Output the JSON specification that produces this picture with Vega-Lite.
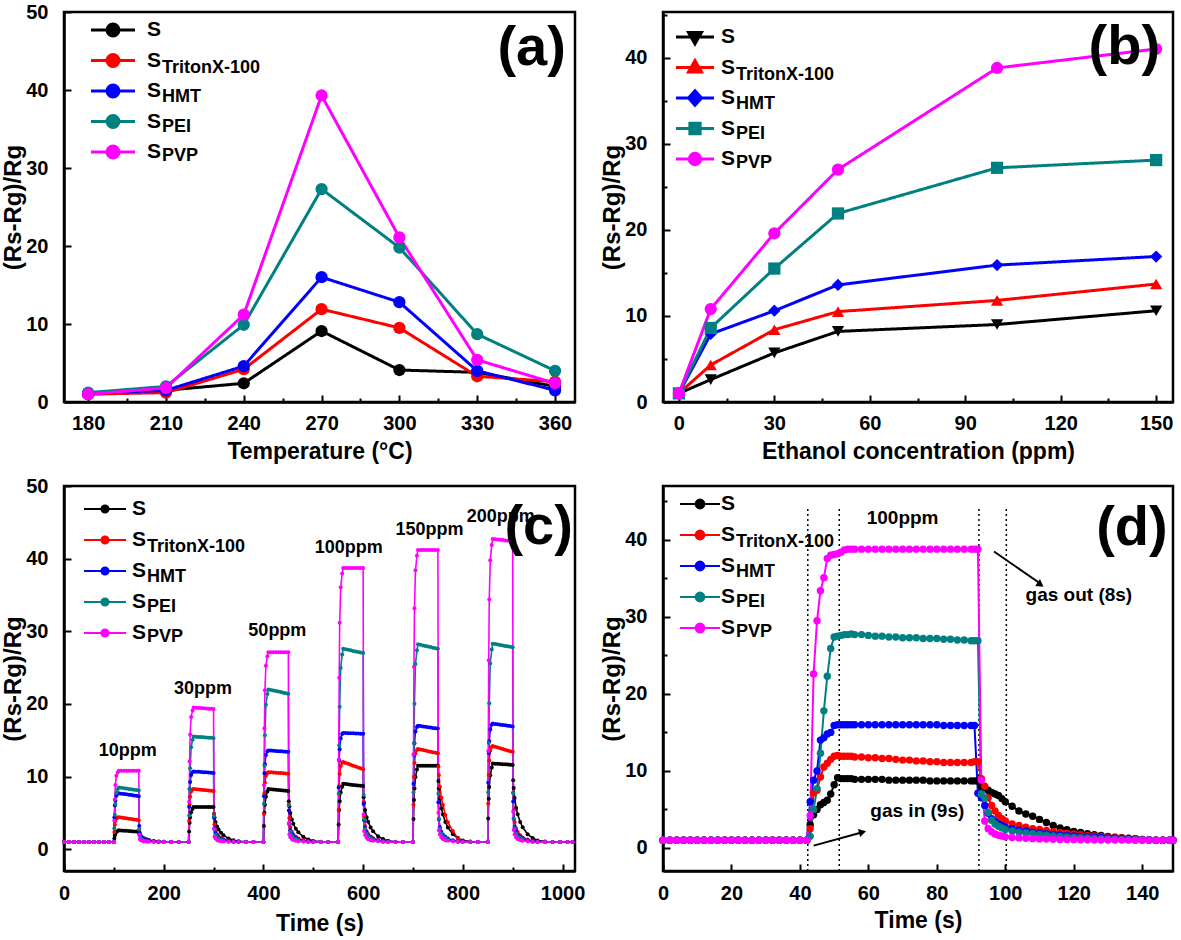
{
"$schema": "https://vega.github.io/schema/vega-lite/v6.json",
"padding": {"left": 0, "top": 0, "right": 2, "bottom": 2},
"background": "white",
"datasets": {
"series": [{"s":"S","rank":1,"sub":" "},{"s":"TX","rank":2,"sub":"TritonX-100"},{"s":"HMT","rank":3,"sub":"HMT"},{"s":"PEI","rank":4,"sub":"PEI"},{"s":"PVP","rank":5,"sub":"PVP"}],
"a": [{"T":180,"S":1.0,"TX":1.0,"HMT":1.1,"PEI":1.2,"PVP":1.0},{"T":210,"S":1.5,"TX":1.2,"HMT":1.5,"PEI":2.0,"PVP":1.8},{"T":240,"S":2.4,"TX":4.2,"HMT":4.6,"PEI":9.9,"PVP":11.2},{"T":270,"S":9.1,"TX":11.9,"HMT":16.0,"PEI":27.3,"PVP":39.3},{"T":300,"S":4.1,"TX":9.5,"HMT":12.8,"PEI":19.8,"PVP":21.1},{"T":330,"S":3.8,"TX":3.3,"HMT":4.0,"PEI":8.7,"PVP":5.4},{"T":360,"S":2.0,"TX":2.6,"HMT":1.5,"PEI":4.0,"PVP":2.4}],
"b": [{"C":0,"S":1.0,"TX":1.0,"HMT":1.0,"PEI":1.0,"PVP":1.0},{"C":10,"S":2.6,"TX":4.3,"HMT":7.9,"PEI":8.6,"PVP":10.8},{"C":30,"S":5.7,"TX":8.4,"HMT":10.6,"PEI":15.5,"PVP":19.6},{"C":50,"S":8.2,"TX":10.5,"HMT":13.6,"PEI":21.9,"PVP":27.0},{"C":100,"S":9.0,"TX":11.8,"HMT":15.9,"PEI":27.2,"PVP":38.8},{"C":150,"S":10.6,"TX":13.7,"HMT":16.9,"PEI":28.1,"PVP":41.0}],
"c": [
{"t":0,"S":1,"TX":1,"HMT":1,"PEI":1,"PVP":1},{"t":10,"S":1,"TX":1,"HMT":1,"PEI":1,"PVP":1},{"t":20,"S":1,"TX":1,"HMT":1,"PEI":1,"PVP":1},{"t":30,"S":1,"TX":1,"HMT":1,"PEI":1,"PVP":1},{"t":40,"S":1,"TX":1,"HMT":1,"PEI":1,"PVP":1},{"t":50,"S":1,"TX":1,"HMT":1,"PEI":1,"PVP":1},{"t":60,"S":1,"TX":1,"HMT":1,"PEI":1,"PVP":1},{"t":70,"S":1,"TX":1,"HMT":1,"PEI":1,"PVP":1},{"t":80,"S":1,"TX":1,"HMT":1,"PEI":1,"PVP":1},{"t":90,"S":1,"TX":1,"HMT":1,"PEI":1,"PVP":1},
{"t":100,"S":1,"TX":1,"HMT":1,"PEI":1,"PVP":1},{"t":101,"S":1.48,"TX":2.36,"HMT":4.35,"PEI":2.88,"PVP":3.94},{"t":102,"S":1.88,"TX":3.38,"HMT":6.03,"PEI":4.75,"PVP":6.88},{"t":103,"S":2.12,"TX":3.89,"HMT":6.7,"PEI":6.25,"PVP":8.84},{"t":105,"S":2.36,"TX":4.23,"HMT":7.37,"PEI":7.75,"PVP":10.11},{"t":108,"S":2.52,"TX":4.37,"HMT":7.63,"PEI":8.28,"PVP":10.6},{"t":110,"S":2.6,"TX":4.4,"HMT":7.7,"PEI":8.5,"PVP":10.8},{"t":115,"S":2.58,"TX":4.35,"HMT":7.65,"PEI":8.45,"PVP":10.8},{"t":120,"S":2.55,"TX":4.3,"HMT":7.6,"PEI":8.4,"PVP":10.8},{"t":125,"S":2.53,"TX":4.25,"HMT":7.55,"PEI":8.35,"PVP":10.8},{"t":130,"S":2.5,"TX":4.2,"HMT":7.5,"PEI":8.3,"PVP":10.8},{"t":135,"S":2.48,"TX":4.15,"HMT":7.45,"PEI":8.25,"PVP":10.8},{"t":140,"S":2.45,"TX":4.1,"HMT":7.4,"PEI":8.2,"PVP":10.8},{"t":145,"S":2.43,"TX":4.05,"HMT":7.35,"PEI":8.15,"PVP":10.8},{"t":150,"S":2.4,"TX":4.0,"HMT":7.3,"PEI":8.1,"PVP":10.8},{"t":151,"S":2.12,"TX":2.65,"HMT":3.2,"PEI":2.78,"PVP":1.98},{"t":152,"S":1.98,"TX":2.05,"HMT":2.26,"PEI":1.85,"PVP":1.39},{"t":154,"S":1.8,"TX":1.66,"HMT":1.82,"PEI":1.5,"PVP":1.25},{"t":157,"S":1.62,"TX":1.45,"HMT":1.57,"PEI":1.32,"PVP":1.15},{"t":160,"S":1.5,"TX":1.33,"HMT":1.41,"PEI":1.21,"PVP":1.1},{"t":165,"S":1.36,"TX":1.23,"HMT":1.28,"PEI":1.14,"PVP":1.06},{"t":170,"S":1.27,"TX":1.15,"HMT":1.19,"PEI":1.09,"PVP":1.04},{"t":180,"S":1.14,"TX":1.08,"HMT":1.09,"PEI":1.04,"PVP":1.02},{"t":190,"S":1.07,"TX":1.04,"HMT":1.04,"PEI":1.01,"PVP":1},{"t":200,"S":1.03,"TX":1.02,"HMT":1.02,"PEI":1,"PVP":1},{"t":215,"S":1.01,"TX":1,"HMT":1,"PEI":1,"PVP":1},{"t":230,"S":1,"TX":1,"HMT":1,"PEI":1,"PVP":1},
{"t":250,"S":1,"TX":1,"HMT":1,"PEI":1,"PVP":1},{"t":251,"S":2.44,"TX":3.92,"HMT":5.85,"PEI":4.63,"PVP":6.55},{"t":252,"S":3.64,"TX":6.11,"HMT":8.28,"PEI":8.25,"PVP":12.1},{"t":253,"S":4.36,"TX":7.21,"HMT":9.25,"PEI":11.15,"PVP":15.8},{"t":255,"S":5.08,"TX":7.94,"HMT":10.22,"PEI":14.05,"PVP":18.21},{"t":258,"S":5.56,"TX":8.23,"HMT":10.6,"PEI":15.07,"PVP":19.13},{"t":260,"S":5.8,"TX":8.3,"HMT":10.7,"PEI":15.5,"PVP":19.5},{"t":265,"S":5.8,"TX":8.26,"HMT":10.68,"PEI":15.48,"PVP":19.48},{"t":270,"S":5.8,"TX":8.23,"HMT":10.65,"PEI":15.45,"PVP":19.45},{"t":275,"S":5.8,"TX":8.19,"HMT":10.63,"PEI":15.43,"PVP":19.43},{"t":280,"S":5.8,"TX":8.15,"HMT":10.6,"PEI":15.4,"PVP":19.4},{"t":285,"S":5.8,"TX":8.11,"HMT":10.58,"PEI":15.38,"PVP":19.38},{"t":290,"S":5.8,"TX":8.08,"HMT":10.55,"PEI":15.35,"PVP":19.35},{"t":295,"S":5.8,"TX":8.04,"HMT":10.53,"PEI":15.33,"PVP":19.33},{"t":300,"S":5.8,"TX":8.0,"HMT":10.5,"PEI":15.3,"PVP":19.3},{"t":301,"S":4.84,"TX":4.85,"HMT":4.33,"PEI":4.58,"PVP":2.83},{"t":302,"S":4.36,"TX":3.45,"HMT":2.9,"PEI":2.72,"PVP":1.73},{"t":304,"S":3.74,"TX":2.54,"HMT":2.24,"PEI":2.0,"PVP":1.46},{"t":307,"S":3.11,"TX":2.05,"HMT":1.86,"PEI":1.64,"PVP":1.27},{"t":310,"S":2.73,"TX":1.77,"HMT":1.62,"PEI":1.43,"PVP":1.18},{"t":315,"S":2.25,"TX":1.53,"HMT":1.43,"PEI":1.29,"PVP":1.11},{"t":320,"S":1.91,"TX":1.35,"HMT":1.29,"PEI":1.17,"PVP":1.07},{"t":330,"S":1.48,"TX":1.2,"HMT":1.14,"PEI":1.07,"PVP":1.04},{"t":340,"S":1.24,"TX":1.09,"HMT":1.07,"PEI":1.03,"PVP":1},{"t":350,"S":1.1,"TX":1.04,"HMT":1.03,"PEI":1,"PVP":1},{"t":365,"S":1.02,"TX":1,"HMT":1,"PEI":1,"PVP":1},{"t":380,"S":1,"TX":1,"HMT":1,"PEI":1,"PVP":1},
{"t":400,"S":1,"TX":1,"HMT":1,"PEI":1,"PVP":1},{"t":401,"S":3.19,"TX":4.84,"HMT":7.3,"PEI":6.25,"PVP":8.83},{"t":402,"S":5.02,"TX":7.72,"HMT":10.45,"PEI":11.5,"PVP":16.66},{"t":403,"S":6.11,"TX":9.16,"HMT":11.71,"PEI":15.7,"PVP":21.88},{"t":405,"S":7.21,"TX":10.12,"HMT":12.97,"PEI":19.9,"PVP":25.27},{"t":408,"S":7.94,"TX":10.5,"HMT":13.47,"PEI":21.37,"PVP":26.58},{"t":410,"S":8.3,"TX":10.6,"HMT":13.6,"PEI":22.0,"PVP":27.1},{"t":415,"S":8.26,"TX":10.58,"HMT":13.58,"PEI":21.93,"PVP":27.1},{"t":420,"S":8.23,"TX":10.55,"HMT":13.55,"PEI":21.85,"PVP":27.1},{"t":425,"S":8.19,"TX":10.53,"HMT":13.53,"PEI":21.78,"PVP":27.1},{"t":430,"S":8.15,"TX":10.5,"HMT":13.5,"PEI":21.7,"PVP":27.1},{"t":435,"S":8.11,"TX":10.48,"HMT":13.48,"PEI":21.63,"PVP":27.1},{"t":440,"S":8.08,"TX":10.45,"HMT":13.45,"PEI":21.55,"PVP":27.1},{"t":445,"S":8.04,"TX":10.43,"HMT":13.43,"PEI":21.48,"PVP":27.1},{"t":450,"S":8.0,"TX":10.4,"HMT":13.4,"PEI":21.4,"PVP":27.1},{"t":451,"S":6.6,"TX":6.17,"HMT":5.34,"PEI":6.1,"PVP":3.61},{"t":452,"S":5.9,"TX":4.29,"HMT":3.48,"PEI":3.45,"PVP":2.04},{"t":454,"S":4.99,"TX":3.07,"HMT":2.61,"PEI":2.43,"PVP":1.65},{"t":457,"S":4.08,"TX":2.41,"HMT":2.12,"PEI":1.92,"PVP":1.39},{"t":460,"S":3.52,"TX":2.03,"HMT":1.81,"PEI":1.61,"PVP":1.26},{"t":465,"S":2.82,"TX":1.71,"HMT":1.56,"PEI":1.41,"PVP":1.16},{"t":470,"S":2.33,"TX":1.47,"HMT":1.37,"PEI":1.24,"PVP":1.1},{"t":480,"S":1.7,"TX":1.26,"HMT":1.19,"PEI":1.1,"PVP":1.05},{"t":490,"S":1.35,"TX":1.12,"HMT":1.09,"PEI":1.04,"PVP":1},{"t":500,"S":1.14,"TX":1.05,"HMT":1.04,"PEI":1,"PVP":1},{"t":515,"S":1.04,"TX":1,"HMT":1,"PEI":1,"PVP":1},{"t":530,"S":1,"TX":1,"HMT":1,"PEI":1,"PVP":1},
{"t":550,"S":1,"TX":1,"HMT":1,"PEI":1,"PVP":1},{"t":551,"S":3.4,"TX":5.4,"HMT":8.5,"PEI":7.65,"PVP":12.31},{"t":552,"S":5.4,"TX":8.7,"HMT":12.25,"PEI":14.3,"PVP":23.62},{"t":553,"S":6.6,"TX":10.35,"HMT":13.75,"PEI":19.62,"PVP":31.16},{"t":555,"S":7.8,"TX":11.45,"HMT":15.25,"PEI":24.94,"PVP":36.06},{"t":558,"S":8.6,"TX":11.89,"HMT":15.85,"PEI":26.8,"PVP":37.95},{"t":560,"S":9.0,"TX":12.0,"HMT":16.0,"PEI":27.6,"PVP":38.7},{"t":565,"S":8.96,"TX":11.88,"HMT":15.99,"PEI":27.53,"PVP":38.7},{"t":570,"S":8.93,"TX":11.75,"HMT":15.98,"PEI":27.45,"PVP":38.7},{"t":575,"S":8.89,"TX":11.63,"HMT":15.96,"PEI":27.38,"PVP":38.7},{"t":580,"S":8.85,"TX":11.5,"HMT":15.95,"PEI":27.3,"PVP":38.7},{"t":585,"S":8.81,"TX":11.38,"HMT":15.94,"PEI":27.23,"PVP":38.7},{"t":590,"S":8.78,"TX":11.25,"HMT":15.93,"PEI":27.15,"PVP":38.7},{"t":595,"S":8.74,"TX":11.13,"HMT":15.91,"PEI":27.08,"PVP":38.7},{"t":600,"S":8.7,"TX":11.0,"HMT":15.9,"PEI":27.0,"PVP":38.7},{"t":601,"S":7.16,"TX":6.5,"HMT":6.22,"PEI":7.5,"PVP":4.77},{"t":602,"S":6.39,"TX":4.5,"HMT":3.98,"PEI":4.12,"PVP":2.51},{"t":604,"S":5.39,"TX":3.2,"HMT":2.94,"PEI":2.82,"PVP":1.94},{"t":607,"S":4.39,"TX":2.5,"HMT":2.34,"PEI":2.17,"PVP":1.57},{"t":610,"S":3.77,"TX":2.1,"HMT":1.97,"PEI":1.78,"PVP":1.38},{"t":615,"S":3.0,"TX":1.75,"HMT":1.67,"PEI":1.52,"PVP":1.23},{"t":620,"S":2.46,"TX":1.5,"HMT":1.45,"PEI":1.31,"PVP":1.15},{"t":630,"S":1.77,"TX":1.28,"HMT":1.22,"PEI":1.13,"PVP":1.08},{"t":640,"S":1.39,"TX":1.13,"HMT":1.1,"PEI":1.05,"PVP":1},{"t":650,"S":1.15,"TX":1.05,"HMT":1.04,"PEI":1,"PVP":1},{"t":665,"S":1.04,"TX":1,"HMT":1,"PEI":1,"PVP":1},{"t":680,"S":1,"TX":1,"HMT":1,"PEI":1,"PVP":1},
{"t":700,"S":1,"TX":1,"HMT":1,"PEI":1,"PVP":1},{"t":701,"S":4.15,"TX":6.12,"HMT":9.0,"PEI":7.8,"PVP":13.06},{"t":702,"S":6.78,"TX":9.96,"HMT":13.0,"PEI":14.6,"PVP":25.12},{"t":703,"S":8.35,"TX":11.88,"HMT":14.6,"PEI":20.04,"PVP":33.16},{"t":705,"S":9.93,"TX":13.16,"HMT":16.2,"PEI":25.48,"PVP":38.39},{"t":708,"S":10.98,"TX":13.67,"HMT":16.84,"PEI":27.38,"PVP":40.4},{"t":710,"S":11.5,"TX":13.8,"HMT":17.0,"PEI":28.2,"PVP":41.2},{"t":715,"S":11.5,"TX":13.73,"HMT":16.95,"PEI":28.13,"PVP":41.2},{"t":720,"S":11.5,"TX":13.65,"HMT":16.9,"PEI":28.05,"PVP":41.2},{"t":725,"S":11.5,"TX":13.58,"HMT":16.85,"PEI":27.98,"PVP":41.2},{"t":730,"S":11.5,"TX":13.5,"HMT":16.8,"PEI":27.9,"PVP":41.2},{"t":735,"S":11.5,"TX":13.43,"HMT":16.75,"PEI":27.83,"PVP":41.2},{"t":740,"S":11.5,"TX":13.35,"HMT":16.7,"PEI":27.75,"PVP":41.2},{"t":745,"S":11.5,"TX":13.28,"HMT":16.65,"PEI":27.68,"PVP":41.2},{"t":750,"S":11.5,"TX":13.2,"HMT":16.6,"PEI":27.6,"PVP":41.2},{"t":751,"S":9.4,"TX":11.4,"HMT":6.46,"PEI":7.65,"PVP":5.02},{"t":752,"S":8.35,"TX":10.2,"HMT":4.12,"PEI":4.19,"PVP":2.61},{"t":754,"S":6.99,"TX":8.6,"HMT":3.03,"PEI":2.86,"PVP":2.01},{"t":757,"S":5.62,"TX":7.1,"HMT":2.4,"PEI":2.2,"PVP":1.6},{"t":760,"S":4.78,"TX":6.1,"HMT":2.01,"PEI":1.8,"PVP":1.4},{"t":765,"S":3.73,"TX":4.7,"HMT":1.7,"PEI":1.53,"PVP":1.24},{"t":770,"S":3.0,"TX":3.7,"HMT":1.47,"PEI":1.32,"PVP":1.16},{"t":780,"S":2.05,"TX":2.5,"HMT":1.23,"PEI":1.13,"PVP":1.08},{"t":790,"S":1.53,"TX":1.5,"HMT":1.11,"PEI":1.05,"PVP":1},{"t":800,"S":1.21,"TX":1.1,"HMT":1.05,"PEI":1,"PVP":1},{"t":815,"S":1.05,"TX":1,"HMT":1,"PEI":1,"PVP":1},{"t":830,"S":1,"TX":1,"HMT":1,"PEI":1,"PVP":1},
{"t":850,"S":1,"TX":1,"HMT":1,"PEI":1,"PVP":1},{"t":851,"S":4.24,"TX":6.28,"HMT":9.15,"PEI":7.83,"PVP":13.51},{"t":852,"S":6.94,"TX":10.24,"HMT":13.23,"PEI":14.65,"PVP":26.02},{"t":853,"S":8.56,"TX":12.22,"HMT":14.86,"PEI":20.11,"PVP":34.36},{"t":855,"S":10.18,"TX":13.54,"HMT":16.49,"PEI":25.57,"PVP":39.78},{"t":858,"S":11.26,"TX":14.07,"HMT":17.14,"PEI":27.48,"PVP":41.87},{"t":860,"S":11.8,"TX":14.2,"HMT":17.3,"PEI":28.3,"PVP":42.7},{"t":865,"S":11.78,"TX":14.1,"HMT":17.25,"PEI":28.24,"PVP":42.66},{"t":870,"S":11.75,"TX":14.0,"HMT":17.2,"PEI":28.18,"PVP":42.63},{"t":875,"S":11.73,"TX":13.9,"HMT":17.15,"PEI":28.11,"PVP":42.59},{"t":880,"S":11.7,"TX":13.8,"HMT":17.1,"PEI":28.05,"PVP":42.55},{"t":885,"S":11.68,"TX":13.7,"HMT":17.05,"PEI":27.99,"PVP":42.51},{"t":890,"S":11.65,"TX":13.6,"HMT":17.0,"PEI":27.93,"PVP":42.48},{"t":895,"S":11.63,"TX":13.5,"HMT":16.95,"PEI":27.86,"PVP":42.44},{"t":900,"S":11.6,"TX":13.4,"HMT":16.9,"PEI":27.8,"PVP":42.4},{"t":901,"S":9.48,"TX":7.82,"HMT":6.57,"PEI":7.7,"PVP":5.14},{"t":902,"S":8.42,"TX":5.34,"HMT":4.18,"PEI":4.22,"PVP":2.66},{"t":904,"S":7.04,"TX":3.73,"HMT":3.07,"PEI":2.88,"PVP":2.04},{"t":907,"S":5.66,"TX":2.86,"HMT":2.43,"PEI":2.21,"PVP":1.62},{"t":910,"S":4.82,"TX":2.36,"HMT":2.03,"PEI":1.8,"PVP":1.41},{"t":915,"S":3.76,"TX":1.93,"HMT":1.72,"PEI":1.54,"PVP":1.25},{"t":920,"S":3.01,"TX":1.62,"HMT":1.48,"PEI":1.32,"PVP":1.17},{"t":930,"S":2.06,"TX":1.35,"HMT":1.24,"PEI":1.13,"PVP":1.08},{"t":940,"S":1.53,"TX":1.16,"HMT":1.11,"PEI":1.05,"PVP":1},{"t":950,"S":1.21,"TX":1.06,"HMT":1.05,"PEI":1,"PVP":1},{"t":965,"S":1.05,"TX":1,"HMT":1,"PEI":1,"PVP":1},{"t":980,"S":1,"TX":1,"HMT":1,"PEI":1,"PVP":1},{"t":995,"S":1,"TX":1,"HMT":1,"PEI":1,"PVP":1},{"t":1010,"S":1,"TX":1,"HMT":1,"PEI":1,"PVP":1},{"t":1020,"S":1,"TX":1,"HMT":1,"PEI":1,"PVP":1}
],
"d": [
{"t":0,"S":1,"TX":1,"HMT":1,"PEI":1,"PVP":1},{"t":2,"S":1,"TX":1,"HMT":1,"PEI":1,"PVP":1},{"t":4,"S":1,"TX":1,"HMT":1,"PEI":1,"PVP":1},{"t":6,"S":1,"TX":1,"HMT":1,"PEI":1,"PVP":1},{"t":8,"S":1,"TX":1,"HMT":1,"PEI":1,"PVP":1},{"t":10,"S":1,"TX":1,"HMT":1,"PEI":1,"PVP":1},{"t":12,"S":1,"TX":1,"HMT":1,"PEI":1,"PVP":1},{"t":14,"S":1,"TX":1,"HMT":1,"PEI":1,"PVP":1},{"t":16,"S":1,"TX":1,"HMT":1,"PEI":1,"PVP":1},{"t":18,"S":1,"TX":1,"HMT":1,"PEI":1,"PVP":1},{"t":20,"S":1,"TX":1,"HMT":1,"PEI":1,"PVP":1},{"t":22,"S":1,"TX":1,"HMT":1,"PEI":1,"PVP":1},{"t":24,"S":1,"TX":1,"HMT":1,"PEI":1,"PVP":1},{"t":26,"S":1,"TX":1,"HMT":1,"PEI":1,"PVP":1},{"t":28,"S":1,"TX":1,"HMT":1,"PEI":1,"PVP":1},{"t":30,"S":1,"TX":1,"HMT":1,"PEI":1,"PVP":1},{"t":32,"S":1,"TX":1,"HMT":1,"PEI":1,"PVP":1},{"t":34,"S":1,"TX":1,"HMT":1,"PEI":1,"PVP":1},{"t":36,"S":1,"TX":1,"HMT":1,"PEI":1,"PVP":1},{"t":38,"S":1,"TX":1,"HMT":1,"PEI":1,"PVP":1},{"t":40,"S":1,"TX":1,"HMT":1,"PEI":1,"PVP":1},{"t":42,"S":1,"TX":1,"HMT":1,"PEI":1,"PVP":1},
{"t":43,"S":3.0,"TX":2.5,"HMT":6.0,"PEI":1.5,"PVP":4.2},{"t":44,"S":4.3,"TX":7.2,"HMT":8.8,"PEI":5.0,"PVP":22.6},{"t":45,"S":5.0,"TX":7.5,"HMT":10.0,"PEI":7.7,"PVP":29.5},{"t":46,"S":5.6,"TX":9.2,"HMT":14.0,"PEI":12.3,"PVP":33.4},{"t":47,"S":5.9,"TX":10.5,"HMT":14.3,"PEI":17.8,"PVP":35.1},{"t":48,"S":6.2,"TX":11.0,"HMT":14.8,"PEI":22.3,"PVP":37.6},{"t":49,"S":7.0,"TX":11.5,"HMT":15.0,"PEI":25.9,"PVP":38.0},{"t":50,"S":8.2,"TX":11.9,"HMT":15.9,"PEI":27.4,"PVP":38.1},{"t":51,"S":9.1,"TX":12.0,"HMT":16.0,"PEI":27.5,"PVP":38.2},{"t":52,"S":9.0,"TX":11.9,"HMT":16.0,"PEI":27.6,"PVP":38.4},{"t":53,"S":9.0,"TX":11.9,"HMT":16.0,"PEI":27.7,"PVP":38.7},{"t":54,"S":9.0,"TX":11.9,"HMT":16.0,"PEI":27.7,"PVP":38.8},{"t":55,"S":9.0,"TX":11.9,"HMT":16.0,"PEI":27.8,"PVP":38.8},
{"t":56,"S":8.9,"TX":11.8,"HMT":16.0,"PEI":27.7,"PVP":38.8},{"t":58,"S":8.9,"TX":11.8,"HMT":16.0,"PEI":27.7,"PVP":38.8},{"t":60,"S":8.9,"TX":11.7,"HMT":16.0,"PEI":27.6,"PVP":38.8},{"t":62,"S":8.9,"TX":11.7,"HMT":16.0,"PEI":27.5,"PVP":38.8},{"t":64,"S":8.9,"TX":11.6,"HMT":16.0,"PEI":27.5,"PVP":38.8},{"t":66,"S":8.8,"TX":11.6,"HMT":16.0,"PEI":27.4,"PVP":38.8},{"t":68,"S":8.8,"TX":11.5,"HMT":16.0,"PEI":27.4,"PVP":38.8},{"t":70,"S":8.8,"TX":11.4,"HMT":16.0,"PEI":27.3,"PVP":38.8},{"t":72,"S":8.8,"TX":11.4,"HMT":16.0,"PEI":27.3,"PVP":38.8},{"t":74,"S":8.8,"TX":11.3,"HMT":16.0,"PEI":27.3,"PVP":38.8},{"t":76,"S":8.8,"TX":11.3,"HMT":16.0,"PEI":27.2,"PVP":38.8},{"t":78,"S":8.7,"TX":11.2,"HMT":16.0,"PEI":27.2,"PVP":38.8},{"t":80,"S":8.7,"TX":11.2,"HMT":16.0,"PEI":27.2,"PVP":38.8},{"t":82,"S":8.7,"TX":11.1,"HMT":15.9,"PEI":27.1,"PVP":38.8},{"t":84,"S":8.7,"TX":11.1,"HMT":15.9,"PEI":27.1,"PVP":38.8},{"t":86,"S":8.7,"TX":11.1,"HMT":15.9,"PEI":27.0,"PVP":38.8},{"t":88,"S":8.7,"TX":11.1,"HMT":15.9,"PEI":27.0,"PVP":38.8},{"t":90,"S":8.7,"TX":11.1,"HMT":15.9,"PEI":26.9,"PVP":38.8},
{"t":91,"S":8.7,"TX":11.2,"HMT":15.9,"PEI":26.9,"PVP":38.8},{"t":92,"S":8.7,"TX":11.2,"HMT":7.1,"PEI":26.9,"PVP":38.8},{"t":93,"S":8.0,"TX":9.0,"HMT":6.5,"PEI":7.0,"PVP":8.8},{"t":94,"S":7.8,"TX":8.0,"HMT":5.5,"PEI":6.5,"PVP":3.5},{"t":95,"S":7.5,"TX":6.5,"HMT":4.5,"PEI":4.6,"PVP":2.5},{"t":96,"S":7.2,"TX":5.5,"HMT":3.8,"PEI":3.6,"PVP":2.1},{"t":97,"S":7.0,"TX":4.8,"HMT":3.4,"PEI":3.1,"PVP":1.8},{"t":98,"S":6.8,"TX":4.2,"HMT":3.1,"PEI":2.8,"PVP":1.65},{"t":99,"S":6.4,"TX":3.8,"HMT":2.9,"PEI":2.6,"PVP":1.55},{"t":100,"S":6.0,"TX":3.5,"HMT":2.7,"PEI":2.4,"PVP":1.45},
{"t":102,"S":5.4,"TX":3.1,"HMT":2.5,"PEI":2.2,"PVP":1.35},{"t":104,"S":4.8,"TX":2.9,"HMT":2.3,"PEI":2.05,"PVP":1.3},{"t":106,"S":4.4,"TX":2.7,"HMT":2.2,"PEI":1.95,"PVP":1.25},{"t":108,"S":4.1,"TX":2.5,"HMT":2.05,"PEI":1.85,"PVP":1.2},{"t":110,"S":3.7,"TX":2.4,"HMT":1.95,"PEI":1.75,"PVP":1.17},{"t":112,"S":3.3,"TX":2.25,"HMT":1.85,"PEI":1.65,"PVP":1.15},{"t":114,"S":2.9,"TX":2.1,"HMT":1.75,"PEI":1.55,"PVP":1.12},{"t":116,"S":2.6,"TX":2.0,"HMT":1.68,"PEI":1.48,"PVP":1.1},{"t":118,"S":2.35,"TX":1.9,"HMT":1.6,"PEI":1.42,"PVP":1.08},{"t":120,"S":2.15,"TX":1.8,"HMT":1.55,"PEI":1.37,"PVP":1.07},{"t":122,"S":2.0,"TX":1.72,"HMT":1.5,"PEI":1.32,"PVP":1.06},{"t":124,"S":1.85,"TX":1.62,"HMT":1.45,"PEI":1.28,"PVP":1.05},{"t":126,"S":1.72,"TX":1.55,"HMT":1.4,"PEI":1.24,"PVP":1.04},{"t":128,"S":1.6,"TX":1.48,"HMT":1.35,"PEI":1.2,"PVP":1.03},{"t":130,"S":1.5,"TX":1.42,"HMT":1.3,"PEI":1.17,"PVP":1.02},{"t":132,"S":1.4,"TX":1.35,"HMT":1.25,"PEI":1.14,"PVP":1.02},{"t":134,"S":1.32,"TX":1.3,"HMT":1.2,"PEI":1.11,"PVP":1.01},{"t":136,"S":1.25,"TX":1.24,"HMT":1.16,"PEI":1.08,"PVP":1.01},{"t":138,"S":1.18,"TX":1.18,"HMT":1.12,"PEI":1.06,"PVP":1},{"t":140,"S":1.1,"TX":1.1,"HMT":1.08,"PEI":1.04,"PVP":1},{"t":142,"S":1.05,"TX":1.05,"HMT":1.04,"PEI":1.02,"PVP":1},{"t":144,"S":1,"TX":1,"HMT":1,"PEI":1,"PVP":1},{"t":146,"S":1,"TX":1,"HMT":1,"PEI":1,"PVP":1},{"t":148,"S":1,"TX":1,"HMT":1,"PEI":1,"PVP":1},{"t":149,"S":1,"TX":1,"HMT":1,"PEI":1,"PVP":1}
]
},
"columns": 2,
"spacing": {"row": 84, "column": 88},
"bounds": "flush",
"resolve": {"scale": {"color": "independent", "strokeDash": "independent", "shape": "independent", "x": "independent", "y": "independent"}, "legend": {"color": "independent", "strokeDash": "independent", "shape": "independent"}},
"concat": [
{
"width": 511, "height": 390,
"layer": [
{
"data": {"name": "a"},
"transform": [{"fold": ["S","TX","HMT","PEI","PVP"], "as": ["s","v"]}, {"lookup": "s", "from": {"data": {"name": "series"}, "key": "s", "fields": ["rank","sub"]}}],
"encoding": {
"x": {"field": "T", "type": "quantitative", "scale": {"domain": [170.7, 367.7], "nice": false, "zero": false}, "axis": {"title": "Temperature (°C)", "values": [180,195,210,225,240,255,270,285,300,315,330,345,360], "labelExpr": "datum.value % 30 == 0 ? datum.label : ''", "tickSize": {"condition": {"test": "datum.value % 30 == 0", "value": -7}, "value": -4}, "labelPadding": 18, "titlePadding": 4}},
"y": {"field": "v", "type": "quantitative", "scale": {"domain": [0, 50], "nice": false, "zero": false}, "axis": {"title": "(Rs-Rg)/Rg", "values": [0,5,10,15,20,25,30,35,40,45,50], "labelExpr": "datum.value % 10 == 0 ? datum.label : ''", "tickSize": {"condition": {"test": "datum.value % 10 == 0", "value": -7}, "value": -4}, "labelPadding": 23, "titlePadding": 0}}
},
"layer": [
{"mark": {"type": "line", "strokeWidth": 3}, "encoding": {
"color": {"field": "s", "type": "nominal", "sort": {"field": "rank", "op": "min"}, "scale": {"range": ["#000000","#ff0000","#0000ff","#008080","#ff00ff"]}, "legend": {"orient": "none", "legendX": 25.5, "legendY": 8, "title": null, "direction": "vertical", "padding": 0, "symbolSize": 1936, "symbolStrokeWidth": 3, "symbolType": "M-1,0H1M0.27,0A0.27,0.27,0,1,1,-0.27,0A0.27,0.27,0,1,1,0.27,0Z", "labelExpr": "'S'", "labelFontSize": 21, "labelOffset": 10.5, "clipHeight": 20, "rowPadding": 9.5, "encode": {"symbols": {"update": {"fill": {"signal": "datum.value=='S'?'#000000':datum.value=='TX'?'#ff0000':datum.value=='HMT'?'#0000ff':datum.value=='PEI'?'#008080':'#ff00ff'"}, "stroke": {"signal": "datum.value=='S'?'#000000':datum.value=='TX'?'#ff0000':datum.value=='HMT'?'#0000ff':datum.value=='PEI'?'#008080':'#ff00ff'"}, "shape": {"value": "M-1,0H1M0.27,0A0.27,0.27,0,1,1,-0.27,0A0.27,0.27,0,1,1,0.27,0Z"}, "opacity": {"value": 1}}}}}},
"strokeDash": {"field": "sub", "type": "nominal", "sort": {"field": "rank", "op": "min"}, "scale": {"range": [[1,0],[1,0],[1,0],[1,0],[1,0]]}, "legend": {"orient": "none", "legendX": 80, "legendY": 16, "title": null, "direction": "vertical", "padding": 0, "symbolSize": 0, "symbolStrokeWidth": 0, "symbolOpacity": 0, "labelFontSize": 18, "labelOffset": 0, "clipHeight": 20, "rowPadding": 9.5}}
}},
{"mark": {"type": "point", "filled": true, "size": 150, "opacity": 1}, "encoding": {
"color": {"field": "s", "type": "nominal", "sort": {"field": "rank", "op": "min"}},
"order": {"field": "rank", "type": "quantitative"}
}}
]
},
{"data": {"values": [{}]}, "mark": {"type": "text", "fontSize": 56, "align": "center", "baseline": "middle"}, "encoding": {"x": {"datum": 351}, "y": {"datum": 45.4}, "text": {"value": "(a)"}}}
]
},
{
"width": 510, "height": 390,
"layer": [
{
"data": {"name": "b"},
"transform": [{"fold": ["S","TX","HMT","PEI","PVP"], "as": ["s","v"]}, {"lookup": "s", "from": {"data": {"name": "series"}, "key": "s", "fields": ["rank","sub"]}}],
"encoding": {
"x": {"field": "C", "type": "quantitative", "scale": {"domain": [-5, 155.3], "nice": false, "zero": false}, "axis": {"title": "Ethanol concentration (ppm)", "values": [0,15,30,45,60,75,90,105,120,135,150], "labelExpr": "datum.value % 30 == 0 ? datum.label : ''", "tickSize": {"condition": {"test": "datum.value % 30 == 0", "value": -7}, "value": -4}, "labelPadding": 18, "titlePadding": 4}},
"y": {"field": "v", "type": "quantitative", "scale": {"domain": [0, 45.3], "nice": false, "zero": false}, "axis": {"title": "(Rs-Rg)/Rg", "values": [0,5,10,15,20,25,30,35,40,45], "labelExpr": "datum.value % 10 == 0 ? datum.label : ''", "tickSize": {"condition": {"test": "datum.value % 10 == 0", "value": -7}, "value": -4}, "labelPadding": 23, "titlePadding": 0}}
},
"layer": [
{"mark": {"type": "line", "strokeWidth": 3}, "encoding": {
"color": {"field": "s", "type": "nominal", "sort": {"field": "rank", "op": "min"}, "scale": {"range": ["#000000","#ff0000","#0000ff","#008080","#ff00ff"]}, "legend": {"orient": "none", "legendX": 11.5, "legendY": 15, "title": null, "direction": "vertical", "padding": 0, "symbolSize": 1444, "symbolStrokeWidth": 3, "symbolType": "M-1,0H1", "labelExpr": "'S'", "labelFontSize": 21, "labelOffset": 5.5, "clipHeight": 20, "rowPadding": 9.5, "encode": {"symbols": {"update": {"fill": {"signal": "datum.value=='S'?'#000000':datum.value=='TX'?'#ff0000':datum.value=='HMT'?'#0000ff':datum.value=='PEI'?'#008080':'#ff00ff'"}, "stroke": {"signal": "datum.value=='S'?'#000000':datum.value=='TX'?'#ff0000':datum.value=='HMT'?'#0000ff':datum.value=='PEI'?'#008080':'#ff00ff'"}, "shape": {"signal": "datum.value=='S'?'M-1,0H1M0,0.36L0.34,-0.24L-0.34,-0.24Z':datum.value=='TX'?'M-1,0H1M0,-0.36L0.34,0.24L-0.34,0.24Z':datum.value=='HMT'?'M-1,0H1M0,-0.38L0.34,0L0,0.38L-0.34,0Z':datum.value=='PEI'?'M-1,0H1M-0.27,-0.27H0.27V0.27H-0.27Z':'M-1,0H1M0.3,0A0.3,0.3,0,1,1,-0.3,0A0.3,0.3,0,1,1,0.3,0Z'"}, "opacity": {"value": 1}}}}}},
"strokeDash": {"field": "sub", "type": "nominal", "sort": {"field": "rank", "op": "min"}, "scale": {"range": [[1,0],[1,0],[1,0],[1,0],[1,0]]}, "legend": {"orient": "none", "legendX": 55, "legendY": 23, "title": null, "direction": "vertical", "padding": 0, "symbolSize": 0, "symbolStrokeWidth": 0, "symbolOpacity": 0, "labelFontSize": 18, "labelOffset": 0, "clipHeight": 20, "rowPadding": 9.5}}
}},
{"mark": {"type": "point", "filled": true, "size": 150, "opacity": 1}, "encoding": {
"color": {"field": "s", "type": "nominal", "sort": {"field": "rank", "op": "min"}},
"shape": {"field": "s", "type": "nominal", "sort": {"field": "rank", "op": "min"}, "scale": {"range": ["triangle-down","triangle-up","diamond","square","circle"]}, "legend": null},
"order": {"field": "rank", "type": "quantitative"}
}}
]
},
{"data": {"values": [{}]}, "mark": {"type": "text", "fontSize": 56, "align": "center", "baseline": "middle"}, "encoding": {"x": {"datum": 140}, "y": {"datum": 41.2}, "text": {"value": "(b)"}}}
]
},
{
"width": 511, "height": 385,
"layer": [
{
"data": {"name": "c"},
"transform": [{"fold": ["S","TX","HMT","PEI","PVP"], "as": ["s","v"]}, {"lookup": "s", "from": {"data": {"name": "series"}, "key": "s", "fields": ["rank","sub"]}}],
"encoding": {
"x": {"field": "t", "type": "quantitative", "scale": {"domain": [0, 1025], "nice": false, "zero": false}, "axis": {"title": "Time (s)", "format": "d", "values": [0,100,200,300,400,500,600,700,800,900,1000], "labelExpr": "datum.value % 200 == 0 ? datum.label : ''", "tickSize": {"condition": {"test": "datum.value % 200 == 0", "value": -7}, "value": -4}, "labelPadding": 19, "titlePadding": 6}},
"y": {"field": "v", "type": "quantitative", "scale": {"domain": [-3, 50], "nice": false, "zero": false}, "axis": {"title": "(Rs-Rg)/Rg", "values": [0,5,10,15,20,25,30,35,40,45,50], "labelExpr": "datum.value % 10 == 0 ? datum.label : ''", "tickSize": {"condition": {"test": "datum.value % 10 == 0", "value": -7}, "value": -4}, "labelPadding": 23, "titlePadding": 0}}
},
"layer": [
{"mark": {"type": "line", "strokeWidth": 1.6}, "encoding": {
"color": {"field": "s", "type": "nominal", "sort": {"field": "rank", "op": "min"}, "scale": {"range": ["#000000","#ff0000","#0000ff","#008080","#ff00ff"]}, "legend": {"orient": "none", "legendX": 19, "legendY": 13, "title": null, "direction": "vertical", "padding": 0, "symbolSize": 1764, "symbolStrokeWidth": 2, "symbolType": "M-1,0H1M0.17,0A0.17,0.17,0,1,1,-0.17,0A0.17,0.17,0,1,1,0.17,0Z", "labelExpr": "'S'", "labelFontSize": 21, "labelOffset": 5, "clipHeight": 20, "rowPadding": 10, "encode": {"symbols": {"update": {"fill": {"signal": "datum.value=='S'?'#000000':datum.value=='TX'?'#ff0000':datum.value=='HMT'?'#0000ff':datum.value=='PEI'?'#008080':'#ff00ff'"}, "stroke": {"signal": "datum.value=='S'?'#000000':datum.value=='TX'?'#ff0000':datum.value=='HMT'?'#0000ff':datum.value=='PEI'?'#008080':'#ff00ff'"}, "shape": {"value": "M-1,0H1M0.17,0A0.17,0.17,0,1,1,-0.17,0A0.17,0.17,0,1,1,0.17,0Z"}, "opacity": {"value": 1}}}}}},
"strokeDash": {"field": "sub", "type": "nominal", "sort": {"field": "rank", "op": "min"}, "scale": {"range": [[1,0],[1,0],[1,0],[1,0],[1,0]]}, "legend": {"orient": "none", "legendX": 65, "legendY": 21, "title": null, "direction": "vertical", "padding": 0, "symbolSize": 0, "symbolStrokeWidth": 0, "symbolOpacity": 0, "labelFontSize": 18, "labelOffset": 0, "clipHeight": 20, "rowPadding": 10}}
}},
{"mark": {"type": "point", "filled": true, "size": 16, "opacity": 1}, "encoding": {
"color": {"field": "s", "type": "nominal", "sort": {"field": "rank", "op": "min"}},
"order": {"field": "rank", "type": "quantitative"}
}}
]
},
{"data": {"values": [{}]}, "mark": {"type": "text", "fontSize": 18, "align": "center", "baseline": "middle"}, "encoding": {"x": {"datum": 128}, "y": {"datum": 13.5}, "text": {"value": "10ppm"}}},
{"data": {"values": [{}]}, "mark": {"type": "text", "fontSize": 18, "align": "center", "baseline": "middle"}, "encoding": {"x": {"datum": 279}, "y": {"datum": 22.0}, "text": {"value": "30ppm"}}},
{"data": {"values": [{}]}, "mark": {"type": "text", "fontSize": 18, "align": "center", "baseline": "middle"}, "encoding": {"x": {"datum": 428}, "y": {"datum": 30.1}, "text": {"value": "50ppm"}}},
{"data": {"values": [{}]}, "mark": {"type": "text", "fontSize": 18, "align": "center", "baseline": "middle"}, "encoding": {"x": {"datum": 571}, "y": {"datum": 41.5}, "text": {"value": "100ppm"}}},
{"data": {"values": [{}]}, "mark": {"type": "text", "fontSize": 18, "align": "center", "baseline": "middle"}, "encoding": {"x": {"datum": 733}, "y": {"datum": 44.0}, "text": {"value": "150ppm"}}},
{"data": {"values": [{}]}, "mark": {"type": "text", "fontSize": 18, "align": "center", "baseline": "middle"}, "encoding": {"x": {"datum": 876}, "y": {"datum": 45.7}, "text": {"value": "200ppm"}}},
{"data": {"values": [{}]}, "mark": {"type": "text", "fontSize": 56, "align": "center", "baseline": "middle"}, "encoding": {"x": {"datum": 952}, "y": {"datum": 44.4}, "text": {"value": "(c)"}}}
]
},
{
"width": 510, "height": 385,
"layer": [
{"data": {"values": [{"t": 42.3}, {"t": 51.5}, {"t": 92.3}, {"t": 100.3}]}, "mark": {"type": "rule", "strokeDash": [2, 3], "strokeWidth": 1.5, "color": "#000000"}, "encoding": {"x": {"field": "t", "type": "quantitative"}, "y": {"datum": -3}, "y2": {"datum": 44}}},
{
"data": {"name": "d"},
"transform": [{"fold": ["S","TX","HMT","PEI","PVP"], "as": ["s","v"]}, {"lookup": "s", "from": {"data": {"name": "series"}, "key": "s", "fields": ["rank","sub"]}}],
"encoding": {
"x": {"field": "t", "type": "quantitative", "scale": {"domain": [0, 149], "nice": false, "zero": false}, "axis": {"title": "Time (s)", "values": [0,10,20,30,40,50,60,70,80,90,100,110,120,130,140], "labelExpr": "datum.value % 20 == 0 ? datum.label : ''", "tickSize": {"condition": {"test": "datum.value % 20 == 0", "value": -7}, "value": -4}, "labelPadding": 19, "titlePadding": 6}},
"y": {"field": "v", "type": "quantitative", "scale": {"domain": [-3, 47], "nice": false, "zero": false}, "axis": {"title": "(Rs-Rg)/Rg", "values": [0,5,10,15,20,25,30,35,40,45], "labelExpr": "datum.value % 10 == 0 ? datum.label : ''", "tickSize": {"condition": {"test": "datum.value % 10 == 0", "value": -7}, "value": -4}, "labelPadding": 23, "titlePadding": 0}}
},
"layer": [
{"mark": {"type": "line", "strokeWidth": 2}, "encoding": {
"color": {"field": "s", "type": "nominal", "sort": {"field": "rank", "op": "min"}, "scale": {"range": ["#000000","#ff0000","#0000ff","#008080","#ff00ff"]}, "legend": {"orient": "none", "legendX": 16, "legendY": 8, "title": null, "direction": "vertical", "padding": 0, "symbolSize": 1600, "symbolStrokeWidth": 2, "symbolType": "M-1,0H1M0.22,0A0.22,0.22,0,1,1,-0.22,0A0.22,0.22,0,1,1,0.22,0Z", "labelExpr": "'S'", "labelFontSize": 21, "labelOffset": 0, "clipHeight": 20, "rowPadding": 10, "encode": {"symbols": {"update": {"fill": {"signal": "datum.value=='S'?'#000000':datum.value=='TX'?'#ff0000':datum.value=='HMT'?'#0000ff':datum.value=='PEI'?'#008080':'#ff00ff'"}, "stroke": {"signal": "datum.value=='S'?'#000000':datum.value=='TX'?'#ff0000':datum.value=='HMT'?'#0000ff':datum.value=='PEI'?'#008080':'#ff00ff'"}, "shape": {"value": "M-1,0H1M0.22,0A0.22,0.22,0,1,1,-0.22,0A0.22,0.22,0,1,1,0.22,0Z"}, "opacity": {"value": 1}}}}}},
"strokeDash": {"field": "sub", "type": "nominal", "sort": {"field": "rank", "op": "min"}, "scale": {"range": [[1,0],[1,0],[1,0],[1,0],[1,0]]}, "legend": {"orient": "none", "legendX": 55, "legendY": 16, "title": null, "direction": "vertical", "padding": 0, "symbolSize": 0, "symbolStrokeWidth": 0, "symbolOpacity": 0, "labelFontSize": 18, "labelOffset": 0, "clipHeight": 20, "rowPadding": 10}}
}},
{"mark": {"type": "point", "filled": true, "size": 55, "opacity": 1}, "encoding": {
"color": {"field": "s", "type": "nominal", "sort": {"field": "rank", "op": "min"}},
"order": {"field": "rank", "type": "quantitative"}
}}
]
},
{"data": {"values": [{}]}, "mark": {"type": "rule", "strokeWidth": 2, "color": "#000000"}, "encoding": {"x": {"datum": 44}, "y": {"datum": 0.3}, "x2": {"datum": 58}, "y2": {"datum": 2.0}}},
{"data": {"values": [{}]}, "mark": {"type": "point", "shape": "triangle-right", "filled": true, "color": "#000000", "size": 70, "angle": -15, "opacity": 1}, "encoding": {"x": {"datum": 58.3}, "y": {"datum": 2.05}}},
{"data": {"values": [{}]}, "mark": {"type": "rule", "strokeWidth": 2, "color": "#000000"}, "encoding": {"x": {"datum": 96.7}, "y": {"datum": 38.5}, "x2": {"datum": 110}, "y2": {"datum": 34.4}}},
{"data": {"values": [{}]}, "mark": {"type": "point", "shape": "triangle-right", "filled": true, "color": "#000000", "size": 70, "angle": 35, "opacity": 1}, "encoding": {"x": {"datum": 110.3}, "y": {"datum": 34.2}}},
{"data": {"values": [{}]}, "mark": {"type": "text", "fontSize": 19, "align": "center", "baseline": "middle"}, "encoding": {"x": {"datum": 70}, "y": {"datum": 42.8}, "text": {"value": "100ppm"}}},
{"data": {"values": [{}]}, "mark": {"type": "text", "fontSize": 19, "align": "center", "baseline": "middle"}, "encoding": {"x": {"datum": 74.3}, "y": {"datum": 4.8}, "text": {"value": "gas in (9s)"}}},
{"data": {"values": [{}]}, "mark": {"type": "text", "fontSize": 19, "align": "center", "baseline": "middle"}, "encoding": {"x": {"datum": 121.5}, "y": {"datum": 32.9}, "text": {"value": "gas out (8s)"}}},
{"data": {"values": [{}]}, "mark": {"type": "text", "fontSize": 56, "align": "center", "baseline": "middle"}, "encoding": {"x": {"datum": 137}, "y": {"datum": 41.5}, "text": {"value": "(d)"}}}
]
}
],
"config": {
"view": {"stroke": "#000000", "strokeWidth": 2.5},
"axis": {"grid": false, "domainColor": "#000000", "domainWidth": 2.5, "tickColor": "#000000", "tickWidth": 2, "labelFont": "Liberation Sans", "labelFontWeight": "bold", "labelFontSize": 20, "labelColor": "#000000", "titleFont": "Liberation Sans", "titleFontWeight": "bold", "titleFontSize": 23, "titleColor": "#000000", "labelFlush": false, "labelOverlap": false, "labelBound": false},
"axisY": {"titleFontSize": 24},
"legend": {"labelFont": "Liberation Sans", "labelFontWeight": "bold", "labelColor": "#000000", "labelLimit": 300},
"text": {"font": "Liberation Sans", "fontWeight": "bold", "color": "#000000"}
}
}
